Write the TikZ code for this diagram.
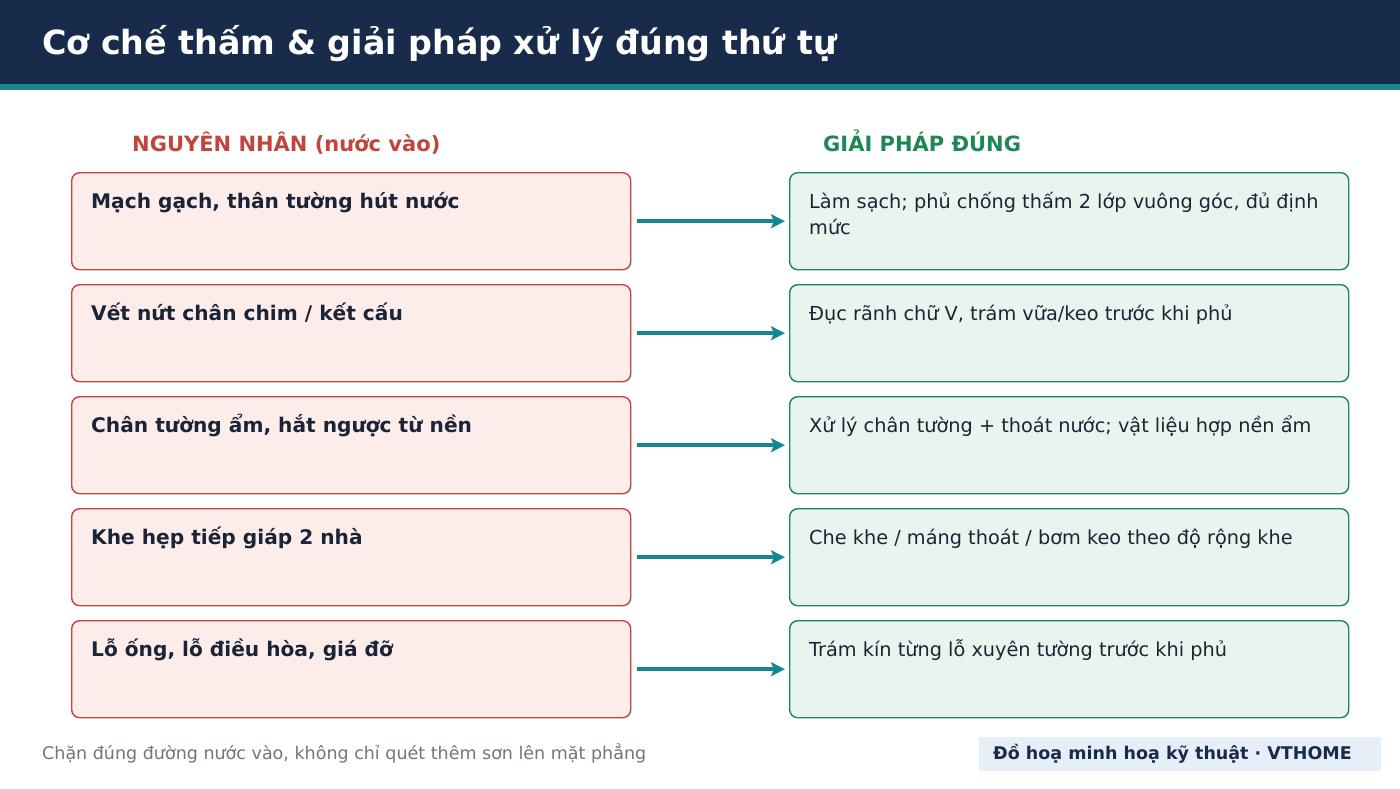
\documentclass[tikz,border=0pt]{standalone}
\usepackage{fontspec}
\setmainfont{DejaVu Sans}
\usetikzlibrary{arrows.meta}
\definecolor{navy}{HTML}{182B4A}
\definecolor{tealc}{HTML}{17878F}
\definecolor{redc}{HTML}{C0463B}
\definecolor{redfill}{HTML}{FCEDEB}
\definecolor{greenc}{HTML}{1E8756}
\definecolor{greenfill}{HTML}{E8F5EE}
\definecolor{ink}{HTML}{1B2436}
\definecolor{grayc}{HTML}{6B7785}
\definecolor{footfill}{HTML}{E6EEF8}
\tikzset{
  causebox/.style={draw=redc, fill=redfill, line width=1.4pt, rounded corners=8pt, minimum width=559pt, minimum height=97pt, anchor=north west, inner sep=0pt},
  fixbox/.style={draw=greenc, fill=greenfill, line width=1.4pt, rounded corners=8pt, minimum width=559pt, minimum height=97pt, anchor=north west, inner sep=0pt},
  causetxt/.style={anchor=base west, inner sep=0pt, text=ink, font=\fontsize{20.15}{26}\selectfont\bfseries},
  fixtxt/.style={anchor=base west, inner sep=0pt, text=ink, font=\fontsize{19.3}{26}\selectfont},
  arr/.style={draw=tealc, line width=4pt, -{Stealth[length=14pt,width=14pt,inset=3pt]}, shorten <=6pt, shorten >=4pt},
  colhead/.style={anchor=base west, inner sep=0pt, font=\fontsize{21}{26}\selectfont\bfseries},
}
\begin{document}
\begin{tikzpicture}[x=1pt,y=-1pt]
\useasboundingbox (0,0) rectangle (1400,788);
\fill[white] (0,0) rectangle (1400,788);
\fill[navy] (0,0) rectangle (1400,84);
\fill[tealc] (0,84) rectangle (1400,90);
\node[anchor=base west, inner sep=0pt, text=white, font=\fontsize{33.3}{40}\selectfont\bfseries] (title) at (42,54) {Cơ chế thấm \& giải pháp xử lý đúng thứ tự};

\node[colhead, text=redc] (hl) at (132,151) {NGUYÊN NHÂN (nước vào)};
\node[colhead, text=greenc] (hr) at (823,151) {GIẢI PHÁP ĐÚNG};

\foreach \i/\ct/\ft in {
  1/{Mạch gạch, thân tường hút nước}/{Làm sạch; phủ chống thấm 2 lớp vuông góc, đủ định},
  2/{Vết nứt chân chim / kết cấu}/{Đục rãnh chữ V, trám vữa/keo trước khi phủ},
  3/{Chân tường ẩm, hắt ngược từ nền}/{Xử lý chân tường + thoát nước; vật liệu hợp nền ẩm},
  4/{Khe hẹp tiếp giáp 2 nhà}/{Che khe / máng thoát / bơm keo theo độ rộng khe},
  5/{Lỗ ống, lỗ điều hòa, giá đỡ}/{Trám kín từng lỗ xuyên tường trước khi phủ}} {
  \pgfmathsetmacro{\ytop}{172+112*(\i-1)}
  \node[causebox] (c\i) at (71,\ytop) {};
  \node[fixbox] (s\i) at (789,\ytop) {};
  \node[causetxt] (ct\i) at (91,\ytop+36) {\ct};
  \node[fixtxt] (st\i) at (809,\ytop+36) {\ft};
  \draw[arr] (c\i.east) -- (s\i.west);
}
\node[fixtxt] (st1b) at (809,234) {mức};

\node[anchor=base west, inner sep=0pt, text=grayc, font=\fontsize{17.5}{20}\selectfont] (foot) at (42,759) {Chặn đúng đường nước vào, không chỉ quét thêm sơn lên mặt phẳng};
\node[fill=footfill, minimum width=402pt, minimum height=34pt, anchor=north west, inner sep=0pt] (tagbox) at (979,737) {};
\node[anchor=base west, inner sep=0pt, text=navy, font=\fontsize{17.5}{20}\selectfont\bfseries] (tag) at (993,759) {Đồ hoạ minh hoạ kỹ thuật · VTHOME};
\end{tikzpicture}
\end{document}
